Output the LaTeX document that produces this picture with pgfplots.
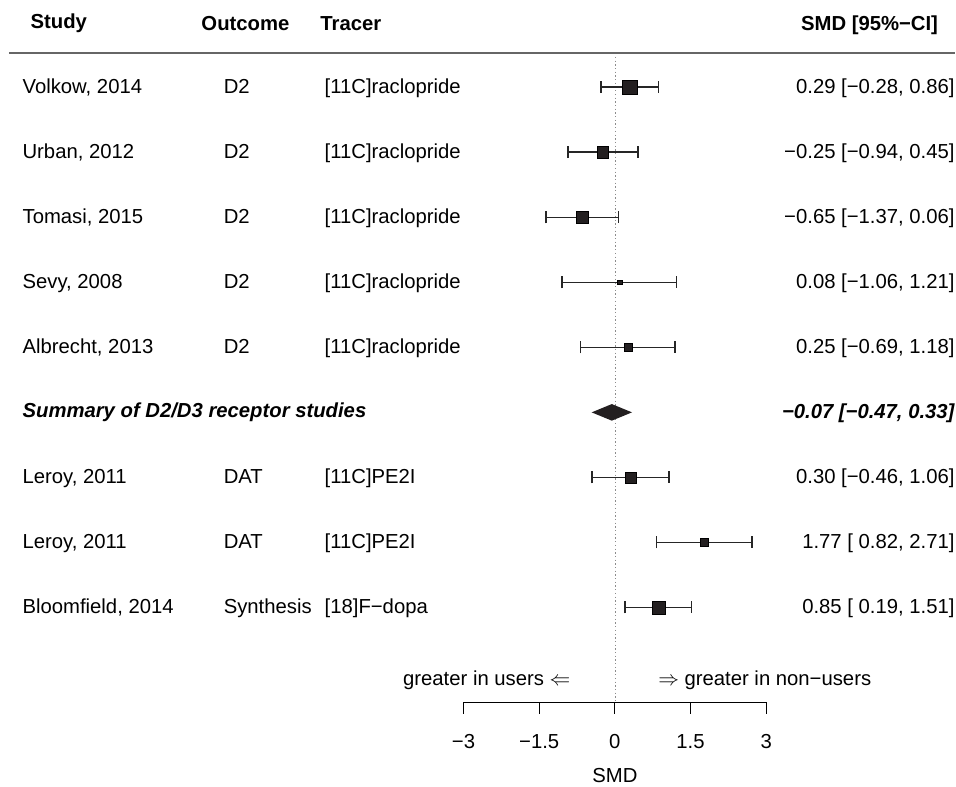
\documentclass[border=0pt]{standalone}
\usepackage{fontspec}
\setmainfont{Liberation Sans}
\usepackage{pgfplots}
\usepackage{pgfplotstable}
\pgfplotsset{compat=1.18}
\newcommand\f{\fontsize{20.3}{24}\selectfont}
\definecolor{sq}{HTML}{231F20}
\tikzset{t/.style={font=\f, inner sep=0pt, outer sep=0pt}}
% row y, estimate, lower, upper
\pgfplotstableread{
y      est    lo     hi
-87.3   0.29 -0.28  0.86
-152.4 -0.25 -0.94  0.45
-217.5 -0.65 -1.37  0.06
-282.6  0.08 -1.06  1.21
-347.7  0.25 -0.69  1.18
-477.9  0.30 -0.46  1.06
-543.0  1.77  0.82  2.71
-608.1  0.85  0.19  1.51
}\studies
\begin{document}
\begin{tikzpicture}
\begin{axis}[
  at={(0,0)}, anchor=south west,
  width=956pt, height=787pt, scale only axis,
  xmin=-12.198, xmax=6.733, ymin=-787, ymax=0,
  hide axis, clip=false,
]
\path (rel axis cs:0,0) rectangle (rel axis cs:1,1);
% header
\node[t, anchor=base west] at (axis cs:-11.59,-28.5) {\bfseries Study};
\node[t, anchor=base west] at (axis cs:-8.204,-30.5) {\bfseries Outcome};
\node[t, anchor=base west] at (axis cs:-5.848,-30.5) {\bfseries Tracer};
\node[t, anchor=base east] at (axis cs:6.396,-30.5) {\bfseries SMD [95\%−CI]};
\addplot[color=black!60, line width=2pt, forget plot] coordinates {(-12.02,-53.3) (6.733,-53.3)};
% reference line
\addplot[color=black!45, line width=1.2pt, dash pattern=on 1.3pt off 2.4pt, forget plot] coordinates {(0,-57) (0,-703)};
% confidence intervals
\addplot[only marks, mark=none, forget plot,
  error bars/.cd, x dir=both, x explicit, error mark=|,
  error bar style={draw=black!85, line width=1.5pt},
  error mark options={draw=black!85, line width=1.5pt, mark size=6pt}]
  table[x=est, y=y, x error minus expr={\thisrow{est}-\thisrow{lo}}, x error plus expr={\thisrow{hi}-\thisrow{est}}] {\studies};
% squares
\addplot[only marks, mark=square*, mark size=7.35pt, mark options={fill=sq, draw=none}] coordinates {(0.29,-87.3)};
\addplot[only marks, mark=square*, mark size=5.65pt, mark options={fill=sq, draw=none}] coordinates {(-0.25,-152.4)};
\addplot[only marks, mark=square*, mark size=6.0pt, mark options={fill=sq, draw=none}] coordinates {(-0.65,-217.5)};
\addplot[only marks, mark=square*, mark size=2.35pt, mark options={fill=sq, draw=none}] coordinates {(0.08,-282.6)};
\addplot[only marks, mark=square*, mark size=4.0pt, mark options={fill=sq, draw=none}] coordinates {(0.25,-347.7)};
\addplot[only marks, mark=square*, mark size=5.35pt, mark options={fill=sq, draw=none}] coordinates {(0.30,-477.9)};
\addplot[only marks, mark=square*, mark size=4.0pt, mark options={fill=sq, draw=none}] coordinates {(1.77,-543.0)};
\addplot[only marks, mark=square*, mark size=6.5pt, mark options={fill=sq, draw=none}] coordinates {(0.85,-608.1)};
% summary diamond
\addplot[fill=sq, draw=none] coordinates {(-0.47,-412.8) (-0.07,-404.5) (0.33,-412.8) (-0.07,-421.1)} -- cycle;
% study texts
\node[t, anchor=base west] at (axis cs:-11.75,-93.2) {Volkow, 2014};
\node[t, anchor=base west] at (axis cs:-7.762,-93.2) {D2};
\node[t, anchor=base west] at (axis cs:-5.762,-93.2) {[11C]raclopride};
\node[t, anchor=base east] at (axis cs:6.723,-93.5) {0.29 [−0.28, 0.86]};
\node[t, anchor=base west] at (axis cs:-11.75,-158.3) {Urban, 2012};
\node[t, anchor=base west] at (axis cs:-7.762,-158.3) {D2};
\node[t, anchor=base west] at (axis cs:-5.762,-158.3) {[11C]raclopride};
\node[t, anchor=base east] at (axis cs:6.723,-158.6) {−0.25 [−0.94, 0.45]};
\node[t, anchor=base west] at (axis cs:-11.75,-223.4) {Tomasi, 2015};
\node[t, anchor=base west] at (axis cs:-7.762,-223.4) {D2};
\node[t, anchor=base west] at (axis cs:-5.762,-223.4) {[11C]raclopride};
\node[t, anchor=base east] at (axis cs:6.723,-223.7) {−0.65 [−1.37, 0.06]};
\node[t, anchor=base west] at (axis cs:-11.75,-288.5) {Sevy, 2008};
\node[t, anchor=base west] at (axis cs:-7.762,-288.5) {D2};
\node[t, anchor=base west] at (axis cs:-5.762,-288.5) {[11C]raclopride};
\node[t, anchor=base east] at (axis cs:6.723,-288.8) {0.08 [−1.06, 1.21]};
\node[t, anchor=base west] at (axis cs:-11.75,-353.6) {Albrecht, 2013};
\node[t, anchor=base west] at (axis cs:-7.762,-353.6) {D2};
\node[t, anchor=base west] at (axis cs:-5.762,-353.6) {[11C]raclopride};
\node[t, anchor=base east] at (axis cs:6.723,-353.9) {0.25 [−0.69, 1.18]};
\node[t, anchor=base west] at (axis cs:-11.75,-418.1) {\bfseries\itshape Summary of D2/D3 receptor studies};
\node[t, anchor=base east] at (axis cs:6.723,-418.5) {\bfseries\itshape −0.07 [−0.47, 0.33]};
\node[t, anchor=base west] at (axis cs:-11.75,-483.8) {Leroy, 2011};
\node[t, anchor=base west] at (axis cs:-7.762,-483.8) {DAT};
\node[t, anchor=base west] at (axis cs:-5.762,-483.8) {[11C]PE2I};
\node[t, anchor=base east] at (axis cs:6.723,-484.1) {0.30 [−0.46, 1.06]};
\node[t, anchor=base west] at (axis cs:-11.75,-548.9) {Leroy, 2011};
\node[t, anchor=base west] at (axis cs:-7.762,-548.9) {DAT};
\node[t, anchor=base west] at (axis cs:-5.762,-548.9) {[11C]PE2I};
\node[t, anchor=base east] at (axis cs:6.723,-549.2) {1.77 [ 0.82, 2.71]};
\node[t, anchor=base west] at (axis cs:-11.75,-614.0) {Bloomfield, 2014};
\node[t, anchor=base west] at (axis cs:-7.762,-614.0) {Synthesis};
\node[t, anchor=base west] at (axis cs:-5.762,-614.0) {[18]F−dopa};
\node[t, anchor=base east] at (axis cs:6.723,-614.3) {0.85 [ 0.19, 1.51]};
% direction labels
\node[t, anchor=base east] at (axis cs:-0.891,-686) {greater in users $\Leftarrow$};
\node[t, anchor=base west] at (axis cs:0.851,-686) {$\Rightarrow$ greater in non−users};
\end{axis}
\begin{axis}[
  at={(464pt,84pt)}, anchor=south west,
  width=303pt, height=10pt, scale only axis,
  xmin=-3, xmax=3, ymin=0, ymax=1,
  axis x line=bottom, hide y axis,
  x axis line style={-, line width=1.2pt, black},
  xtick={-3,-1.5,0,1.5,3},
  xticklabels={−3,−1.5,0,1.5,3},
  tick align=outside, major tick length=11.3pt,
  xtick style={line width=1.2pt, black},
  xticklabel style={font=\f, inner sep=0pt, anchor=base, yshift=-35pt},
  xlabel={SMD},
  xlabel style={font=\f, inner sep=0pt, at={(axis description cs:0.5,0)}, anchor=base, yshift=-80.7pt},
]
\addplot[draw=none, forget plot] coordinates {(0,0.5)};
\end{axis}
\end{tikzpicture}
\end{document}
